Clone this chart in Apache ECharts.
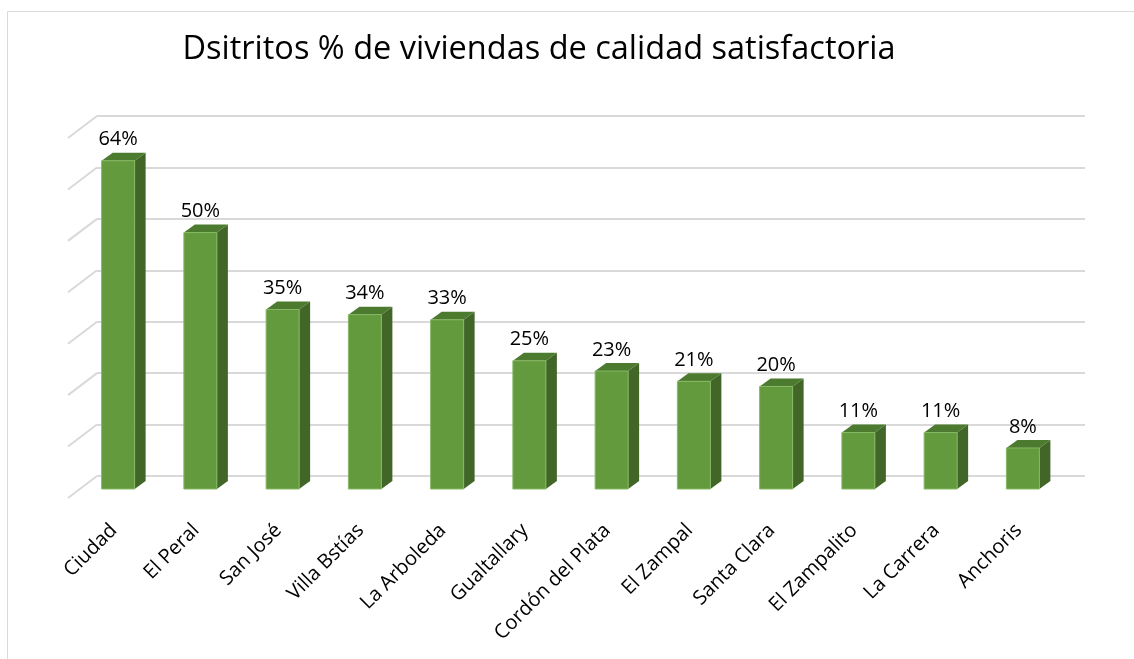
<!DOCTYPE html>
<html>
<head>
<meta charset="utf-8">
<script src="https://cdn.jsdelivr.net/npm/echarts@6/dist/echarts.min.js"></script>
<style>
  html, body { margin: 0; padding: 0; background: #fff; }
  #chart { width: 1134px; height: 659px; }
</style>
</head>
<body>
<div id="chart"></div>
<script>
var distritos = ['Ciudad', 'El Peral', 'San José', 'Villa Bstías', 'La Arboleda', 'Gualtallary',
    'Cordón del Plata', 'El Zampal', 'Santa Clara', 'El Zampalito', 'La Carrera', 'Anchoris'];
var porcentajes = [64, 50, 35, 34, 33, 25, 23, 21, 20, 11, 11, 8];
var ticks = [0, 10, 20, 30, 40, 50, 60, 70];

var chart = echarts.init(document.getElementById('chart'));

// depth of the fake 3D effect
var dx = 11, dy = 8;

function renderBar(params, api) {
    var idx = api.value(0);
    var top = api.coord([idx, api.value(1)]);
    var base = api.coord([idx, 0]);
    var w = 33;
    var x0 = top[0] - w / 2;
    return {
        type: 'group',
        children: [{
            type: 'polygon',
            shape: { points: [[x0 + w, top[1]], [x0 + w + dx, top[1] - dy], [x0 + w + dx, base[1] - dy], [x0 + w, base[1]]] },
            style: { fill: '#416628' }
        }, {
            type: 'polygon',
            shape: { points: [[x0, top[1]], [x0 + dx, top[1] - dy], [x0 + w + dx, top[1] - dy], [x0 + w, top[1]]] },
            style: { fill: '#4c7a2f' }
        }, {
            type: 'rect',
            shape: { x: x0, y: top[1], width: w, height: base[1] - top[1] },
            style: { fill: '#639a3d', stroke: '#86b864', lineWidth: 1 }
        }, {
            type: 'text',
            x: top[0],
            y: top[1] - dy - 3,
            style: {
                text: api.value(1) + '%',
                fill: '#000',
                font: '20px "Open Sans"',
                align: 'center',
                verticalAlign: 'bottom'
            }
        }]
    };
}

function renderFloor(params, api) {
    var p = api.coord([0, api.value(0)]);
    return {
        type: 'line',
        shape: { x1: p[0] - 29, y1: p[1] + 22, x2: p[0], y2: p[1] },
        style: { stroke: '#d9d9d9', lineWidth: 2 }
    };
}

var option = {
    backgroundColor: '#fff',
    animation: false,
    title: {
        text: 'Dsitritos % de viviendas de calidad satisfactoria',
        left: 534,
        textAlign: 'center',
        top: 28,
        textStyle: { fontFamily: 'Open Sans', fontSize: 32.5, fontWeight: 'normal', color: '#000' }
    },
    graphic: [{
        type: 'rect',
        shape: { x: 7.5, y: 11.5, width: 1300, height: 800 },
        style: { fill: null, stroke: '#d9d9d9', lineWidth: 1 },
        silent: true
    }],
    grid: [
        { left: 97, right: 49, top: 116, bottom: 183 },
        { left: 77, right: 70, top: 130, bottom: 170 }
    ],
    xAxis: [{
        gridIndex: 0, type: 'value', min: 0, max: 1, show: false
    }, {
        gridIndex: 1,
        type: 'category',
        data: distritos,
        axisLine: { show: false },
        axisTick: { show: false },
        axisLabel: {
            rotate: 45,
            interval: 0,
            margin: 34,
            padding: [0, 6, 0, 0],
            fontFamily: 'Open Sans',
            fontSize: 20,
            color: '#000'
        }
    }],
    yAxis: [{
        gridIndex: 0, type: 'value', min: 0, max: 70, interval: 10,
        axisLine: { show: false }, axisTick: { show: false }, axisLabel: { show: false },
        splitLine: { lineStyle: { color: '#d9d9d9', width: 2 } }
    }, {
        gridIndex: 1, type: 'value', min: 0, max: 70, interval: 10, show: false,
        splitLine: { show: false }
    }],
    series: [{
        type: 'custom',
        xAxisIndex: 0, yAxisIndex: 0,
        renderItem: renderFloor,
        data: ticks.map(function (t) { return [t]; }),
        encode: { y: 0 },
        silent: true
    }, {
        type: 'custom',
        xAxisIndex: 1, yAxisIndex: 1,
        renderItem: renderBar,
        data: porcentajes.map(function (v, i) { return [i, v]; }),
        encode: { x: 0, y: 1 }
    }]
};

chart.setOption(option);
</script>
</body>
</html>
